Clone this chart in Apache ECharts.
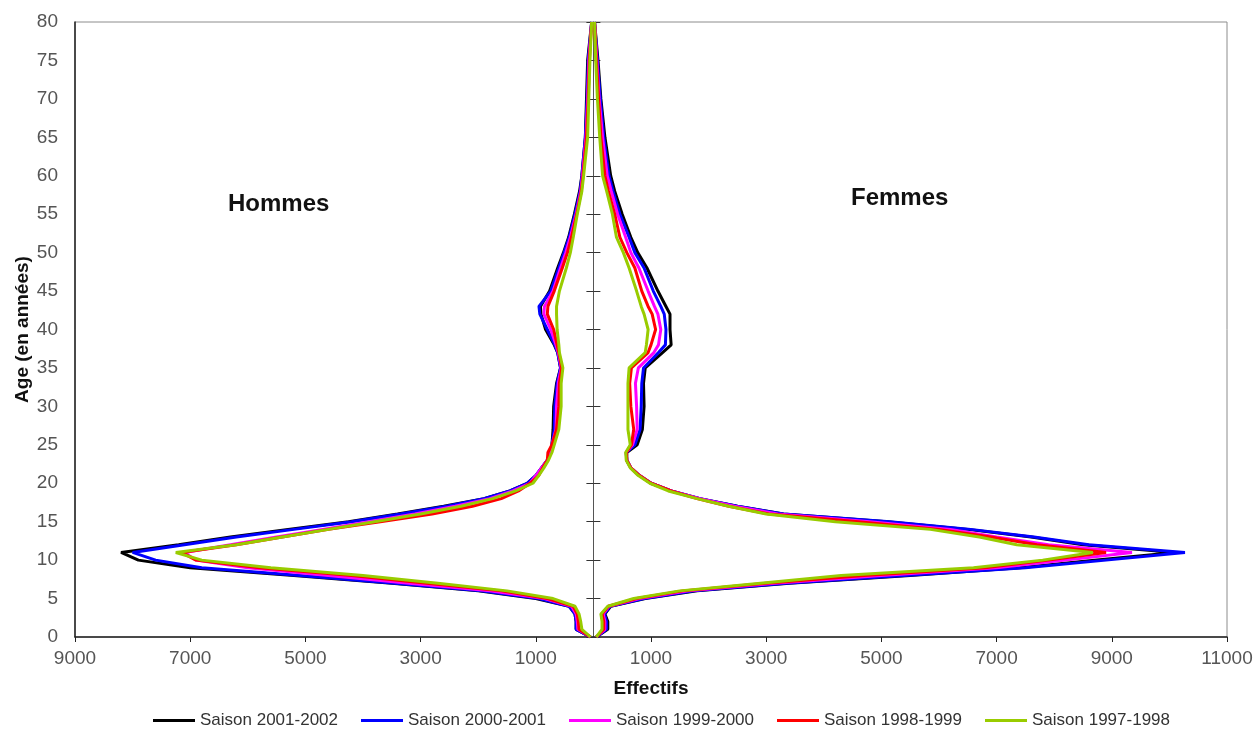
<!DOCTYPE html>
<html>
<head>
<meta charset="utf-8">
<title>Pyramide des âges</title>
<script src="https://cdn.jsdelivr.net/npm/echarts@6/dist/echarts.min.js"></script>
<style>
  html, body { margin: 0; padding: 0; background: #fff; }
  #chart { width: 1258px; height: 742px; }
</style>
</head>
<body>
<div id="chart"></div>
<script>
// ages (années) communs à toutes les courbes
const ages = [0, 1, 2, 3, 4, 5, 6, 7, 8, 9, 10, 11, 12, 13, 14, 15, 16, 17, 18, 19, 20, 21, 22, 23, 24, 25,
  27, 30, 33, 35, 37, 38, 40, 42, 43, 45, 48, 50, 52, 55, 58, 60, 65, 70, 75, 80];

const saisons = ['Saison 2001-2002', 'Saison 2000-2001', 'Saison 1999-2000', 'Saison 1998-1999', 'Saison 1997-1998'];
const couleurs = ['#000000', '#0000ff', '#ff00ff', '#ff0000', '#99cc00'];

// effectifs hommes (dessinés à gauche)
const hommes2001 = [50, 300, 300, 320, 420, 1000, 2000, 3500, 5200, 7000, 7900, 8200, 7200, 6300, 5300, 4250, 3400, 2600, 1900, 1450, 1150, 1000, 900, 800, 750, 720,
  700, 690, 640, 570, 620, 680, 830, 910, 920, 760, 620, 520, 430, 330, 240, 200, 140, 120, 100, 30];
const hommes2000 = [50, 300, 300, 320, 420, 950, 1950, 3450, 5100, 6800, 7600, 8000, 7100, 6200, 5200, 4200, 3350, 2550, 1900, 1450, 1150, 1000, 900, 800, 750, 720,
  680, 670, 630, 570, 620, 670, 800, 930, 945, 740, 600, 510, 420, 320, 230, 200, 140, 110, 90, 30];
const hommes1999 = [50, 270, 280, 300, 380, 850, 1800, 3200, 4600, 6000, 6900, 7100, 6300, 5500, 4700, 3900, 3100, 2400, 1800, 1400, 1100, 1000, 900, 800, 760, 720,
  650, 640, 610, 560, 610, 650, 740, 860, 850, 700, 570, 480, 400, 300, 220, 190, 130, 100, 80, 30];
const hommes1998 = [50, 250, 260, 280, 350, 800, 1600, 2900, 4200, 5800, 6900, 7150, 6200, 5400, 4600, 3700, 2800, 2100, 1600, 1300, 1100, 950, 880, 800, 790, 720,
  640, 600, 590, 550, 600, 630, 690, 800, 790, 680, 540, 450, 380, 290, 210, 180, 120, 90, 70, 30];
const hommes1997 = [50, 200, 220, 250, 320, 700, 1500, 2700, 4000, 5600, 6800, 7250, 6200, 5400, 4600, 3800, 3000, 2300, 1750, 1350, 1050, 950, 860, 780, 720, 680,
  600, 560, 560, 530, 590, 600, 630, 640, 640, 590, 470, 400, 350, 280, 200, 170, 100, 80, 60, 30];

// effectifs femmes (dessinés à droite)
const femmes2001 = [50, 250, 250, 200, 300, 900, 1800, 3400, 5500, 7400, 8700, 10100, 8500, 7600, 6500, 5100, 3300, 2500, 1850, 1350, 1000, 800, 650, 580, 580, 760,
  850, 880, 870, 900, 1200, 1350, 1330, 1330, 1260, 1120, 930, 770, 650, 500, 370, 300, 200, 130, 80, 20];
const femmes2000 = [50, 230, 230, 190, 290, 880, 1750, 3350, 5400, 7500, 8900, 10270, 8600, 7650, 6550, 5150, 3300, 2500, 1850, 1350, 1000, 800, 650, 580, 570, 720,
  810, 830, 840, 870, 1130, 1250, 1260, 1230, 1170, 1040, 880, 720, 620, 460, 340, 270, 180, 120, 70, 20];
const femmes1999 = [50, 200, 200, 170, 270, 800, 1650, 3150, 5000, 7000, 8200, 9350, 7900, 7000, 6200, 4800, 3200, 2450, 1850, 1350, 1000, 800, 650, 580, 570, 680,
  760, 750, 730, 780, 1050, 1130, 1170, 1120, 1060, 950, 790, 650, 560, 420, 310, 240, 160, 100, 60, 20];
const femmes1998 = [50, 180, 180, 150, 260, 750, 1550, 3000, 4700, 6800, 7900, 8900, 7700, 6900, 6000, 4600, 3050, 2350, 1800, 1350, 1000, 800, 650, 580, 570, 660,
  700, 650, 630, 660, 950, 1000, 1080, 1020, 950, 840, 720, 580, 460, 370, 260, 200, 130, 90, 50, 20];
const femmes1997 = [50, 150, 150, 130, 250, 700, 1500, 2900, 4300, 6600, 7800, 8670, 7350, 6700, 5850, 4200, 3000, 2350, 1800, 1300, 980, 780, 640, 570, 560, 640,
  600, 600, 600, 620, 900, 920, 950, 880, 830, 750, 620, 520, 400, 330, 230, 160, 110, 70, 40, 20];

const hommes = [hommes2001, hommes2000, hommes1999, hommes1998, hommes1997];
const femmes = [femmes2001, femmes2000, femmes1999, femmes1998, femmes1997];

const police = '"Liberation Sans", Arial, sans-serif';

const chart = echarts.init(document.getElementById('chart'));

let series = [];
saisons.forEach(function (nom, i) {
	const style = {
		name: nom,
		type: 'line',
		symbol: 'none',
		yAxisIndex: 0,
		lineStyle: { color: couleurs[i], width: 3 },
		itemStyle: { color: couleurs[i] },
		emphasis: { disabled: true }
	};
	series.push(Object.assign({}, style, {
		data: ages.map(function (a, k) { return [-hommes[i][k], a]; })
	}));
	series.push(Object.assign({}, style, {
		data: ages.map(function (a, k) { return [femmes[i][k], a]; })
	}));
});

const axeAge = {
	type: 'value',
	min: 0,
	max: 80,
	interval: 5,
	splitLine: { show: false }
};

chart.setOption({
	animation: false,
	textStyle: { fontFamily: police },
	grid: {
		left: 75,
		right: 31,
		top: 22,
		bottom: 105,
		containLabel: false,
		outerBoundsMode: 'none',
		show: true,
		borderColor: '#8c8c8c',
		borderWidth: 1
	},
	legend: {
		data: saisons,
		bottom: 8,
		left: 148,
		icon: 'rect',
		itemWidth: 42,
		itemHeight: 3,
		itemGap: 23,
		textStyle: { fontSize: 17, color: '#333', fontFamily: police }
	},
	graphic: [
		{ type: 'text', left: 228, top: 192, style: { text: 'Hommes', font: 'bold 24px ' + police, fill: '#111' } },
		{ type: 'text', left: 851, top: 186, style: { text: 'Femmes', font: 'bold 24px ' + police, fill: '#111' } }
	],
	xAxis: {
		type: 'value',
		min: -9000,
		max: 11000,
		interval: 2000,
		splitLine: { show: false },
		axisLine: { show: true, onZero: false, lineStyle: { color: '#222', width: 1.5 } },
		axisTick: { show: true, length: 5, lineStyle: { color: '#222' } },
		axisLabel: {
			formatter: function (v) { return Math.abs(v); },
			color: '#555',
			fontSize: 19,
			margin: 12,
			showMinLabel: true,
			showMaxLabel: true,
			hideOverlap: false
		},
		name: 'Effectifs',
		nameLocation: 'middle',
		nameGap: 42,
		nameTextStyle: { fontWeight: 'bold', fontSize: 19, color: '#111' }
	},
	yAxis: [
		Object.assign({}, axeAge, {
			position: 'left',
			axisLine: { show: true, onZero: false, lineStyle: { color: '#222', width: 1.5 } },
			axisTick: { show: false },
			axisLabel: { color: '#555', fontSize: 19, margin: 17 },
			name: 'Age (en années)',
			nameLocation: 'middle',
			nameRotate: 90,
			nameGap: 43,
			nameMoveOverlap: false,
			nameTextStyle: { fontWeight: 'bold', fontSize: 19, color: '#111' }
		}),
		// axe central (x = 0), graduations vers la gauche
		Object.assign({}, axeAge, {
			position: 'left',
			axisLine: { show: true, onZero: true, onZeroAxisIndex: 0, lineStyle: { color: '#555', width: 1 } },
			axisTick: { show: true, length: 7, lineStyle: { color: '#333' } },
			axisLabel: { show: false }
		}),
		// axe central, graduations vers la droite
		Object.assign({}, axeAge, {
			position: 'right',
			axisLine: { show: false, onZero: true, onZeroAxisIndex: 0 },
			axisTick: { show: true, length: 7, lineStyle: { color: '#333' } },
			axisLabel: { show: false }
		})
	],
	series: series
});
</script>
</body>
</html>
